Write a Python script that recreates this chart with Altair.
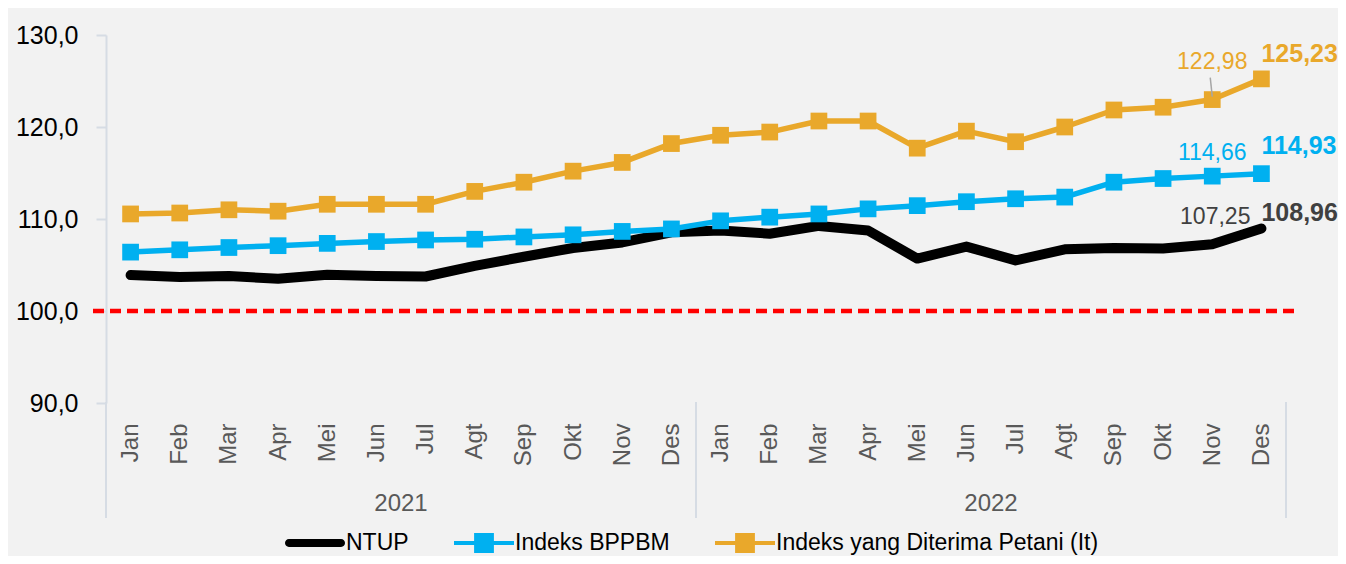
import altair as alt
import pandas as pd

# ---------------- data ----------------
months = ["Jan", "Feb", "Mar", "Apr", "Mei", "Jun", "Jul", "Agt", "Sep", "Okt", "Nov", "Des"]
years = ["2021", "2022"]
series_names = ["NTUP", "Indeks BPPBM", "Indeks yang Diterima Petani (It)"]
series_colors = ["#000000", "#00B0F0", "#E9A82B"]

ntup = [103.90, 103.70, 103.80, 103.50, 103.95, 103.80, 103.75, 104.90, 105.90, 106.85, 107.45, 108.55,
        108.75, 108.40, 109.25, 108.75, 105.70, 107.00, 105.50, 106.70, 106.85, 106.80, 107.25, 108.96]
bppbm = [106.40, 106.65, 106.90, 107.10, 107.35, 107.55, 107.72, 107.80, 108.05, 108.28, 108.65, 108.92,
         109.80, 110.20, 110.55, 111.10, 111.45, 111.88, 112.20, 112.38, 114.00, 114.40, 114.66, 114.93]
it_vals = [110.55, 110.65, 111.00, 110.85, 111.60, 111.60, 111.60, 113.00, 114.00, 115.20, 116.15, 118.20,
           119.10, 119.45, 120.65, 120.65, 117.70, 119.55, 118.40, 120.00, 121.85, 122.15, 122.98, 125.23]

reference_value = [100.0]
y_ticks = [90, 100, 110, 120, 130]

rows = []
for name, vals in zip(series_names, [ntup, bppbm, it_vals]):
    for i, v in enumerate(vals):
        rows.append({"idx": i, "series": name, "value": v,
                     "month": months[i % 12], "year": years[i // 12],
                     "label": f"{v:.2f}".replace(".", ",")})
df = pd.DataFrame(rows)

year_df = pd.DataFrame({"year": years, "center": [5.5, 17.5]})
sep_df = pd.DataFrame({"pos": [-0.5, 11.5, 23.5]})
legend_df = pd.DataFrame({"series": series_names})

FONT = "Liberation Sans, Arial, sans-serif"
W, H = 1180, 368

xscale = alt.Scale(domain=[-0.5, 23.5], nice=False, zero=False)
yscale = alt.Scale(domain=[90, 130], nice=False, zero=False)

month_expr = "[" + ",".join(f"'{m}'" for m in months) + "][datum.value % 12]"

x_axis = alt.Axis(values=list(range(24)), labelExpr=month_expr, labelAngle=270,
                  labelAlign="right", labelBaseline="middle", labelPadding=20,
                  ticks=False, domain=False, grid=False, title=None,
                  labelFont=FONT, labelFontSize=24, labelColor="#595959")
y_axis = alt.Axis(values=y_ticks, labelExpr="replace(format(datum.value, '.1f'), '.', ',')",
                  grid=False, title=None, domainColor="#D6DCE4", domainWidth=2,
                  tickColor="#D6DCE4", tickWidth=2, tickSize=10, labelPadding=18,
                  labelFont=FONT, labelFontSize=25, labelColor="#000000")

X = alt.X("idx:Q", scale=xscale, axis=x_axis)
Y = alt.Y("value:Q", scale=yscale, axis=y_axis)

color_scale = alt.Scale(domain=series_names, range=series_colors)

ntup_shape = "M-0.87,-0.13H0.87A0.13,0.13 0 0 1 0.87,0.13H-0.87A0.13,0.13 0 0 1 -0.87,-0.13Z"
mark_shape = "M-1,-0.07H1V0.07H-1Z M-0.33,-0.33H0.33V0.33H-0.33Z"
shape_scale = alt.Scale(domain=series_names, range=[ntup_shape, mark_shape, mark_shape])

legend = alt.Legend(
    title=None, orient="none", direction="horizontal", legendX=179, legendY=478,
    symbolSize=3600, symbolStrokeWidth=0, symbolOpacity=1,
    labelFont=FONT, labelFontSize=23, labelColor="#000000", labelOffset=1,
    labelLimit=600, columnPadding=45, padding=0,
)

base = alt.Chart(df)

ref_rule = alt.Chart(pd.DataFrame({"v": reference_value})).mark_rule(
    color="#FF0000", strokeWidth=4.5, strokeDash=[11, 6]
).encode(
    y=alt.Y("v:Q", scale=yscale, axis=y_axis),
    x=alt.value(-13), x2=alt.value(W + 12),
)

line_layers = []
for name, col, sw in zip(series_names, series_colors, [10, 5.5, 5.5]):
    line_layers.append(
        base.transform_filter(f"datum.series === '{name}'").mark_line(
            strokeCap="round", strokeJoin="round", color=col, strokeWidth=sw
        ).encode(x=X, y=Y)
    )

point_layers = []
for name, col in zip(series_names[1:], series_colors[1:]):
    point_layers.append(
        base.transform_filter(f"datum.series === '{name}'").mark_point(
            shape="square", filled=True, size=280, opacity=1, color=col
        ).encode(x=X, y=Y)
    )

# legend-only layer (its marks are clipped out of view; only the legend shows)
legend_layer = alt.Chart(legend_df).mark_point(filled=True, clip=True, opacity=1).encode(
    x=alt.value(-200), y=alt.value(-200),
    color=alt.Color("series:N", scale=color_scale, legend=legend),
    shape=alt.Shape("series:N", scale=shape_scale, legend=legend),
)


def label_layer(series, idx, color, bold, align, dx, dy, size):
    return base.transform_filter(
        f"datum.series === '{series}' && datum.idx === {idx}"
    ).mark_text(
        align=align, baseline="alphabetic", dx=dx, dy=dy, font=FONT, fontSize=size,
        fontWeight="bold" if bold else "normal", color=color,
    ).encode(x=X, y=Y, text="label:N")


labels = [
    label_layer("Indeks yang Diterima Petani (It)", 22, "#E9A82B", False, "center", 0, -31, 23),
    label_layer("Indeks yang Diterima Petani (It)", 23, "#E9A82B", True, "left", 0, -17, 25),
    label_layer("Indeks BPPBM", 22, "#00B0F0", False, "center", 0, -16, 23),
    label_layer("Indeks BPPBM", 23, "#00B0F0", True, "left", 0, -20, 25),
    label_layer("NTUP", 22, "#404040", False, "center", 3, -20, 23),
    label_layer("NTUP", 23, "#404040", True, "left", 0, -8, 25),
]

leader = base.transform_filter(
    "datum.series === 'Indeks yang Diterima Petani (It)' && datum.idx === 22"
).mark_rule(color="#A6A6A6", strokeWidth=1.5, xOffset=-2, yOffset=-22, x2Offset=0, y2Offset=-3).encode(
    x=X, x2="idx:Q", y=Y, y2="value:Q",
)

separators = alt.Chart(sep_df).mark_rule(color="#D6DCE4", strokeWidth=2).encode(
    x=alt.X("pos:Q", scale=xscale, axis=x_axis),
    y=alt.value(H - 1), y2=alt.value(H + 115),
)

year_text = alt.Chart(year_df).mark_text(
    font=FONT, fontSize=24, color="#595959", baseline="alphabetic", align="center"
).encode(
    x=alt.X("center:Q", scale=xscale, axis=x_axis),
    y=alt.value(H + 108),
    text="year:N",
)

chart = alt.layer(
    ref_rule, *line_layers, *point_layers, leader, *labels, separators, year_text, legend_layer
).properties(
    width=W, height=H,
    autosize=alt.AutoSizeParams(type="none"),
    padding={"left": 98, "top": 27, "right": 52, "bottom": 153},
).configure(
    background="#F2F2F2",
).configure_view(
    stroke=None,
)

chart.save("out.html", embed_options={"renderer": "svg", "actions": False})
